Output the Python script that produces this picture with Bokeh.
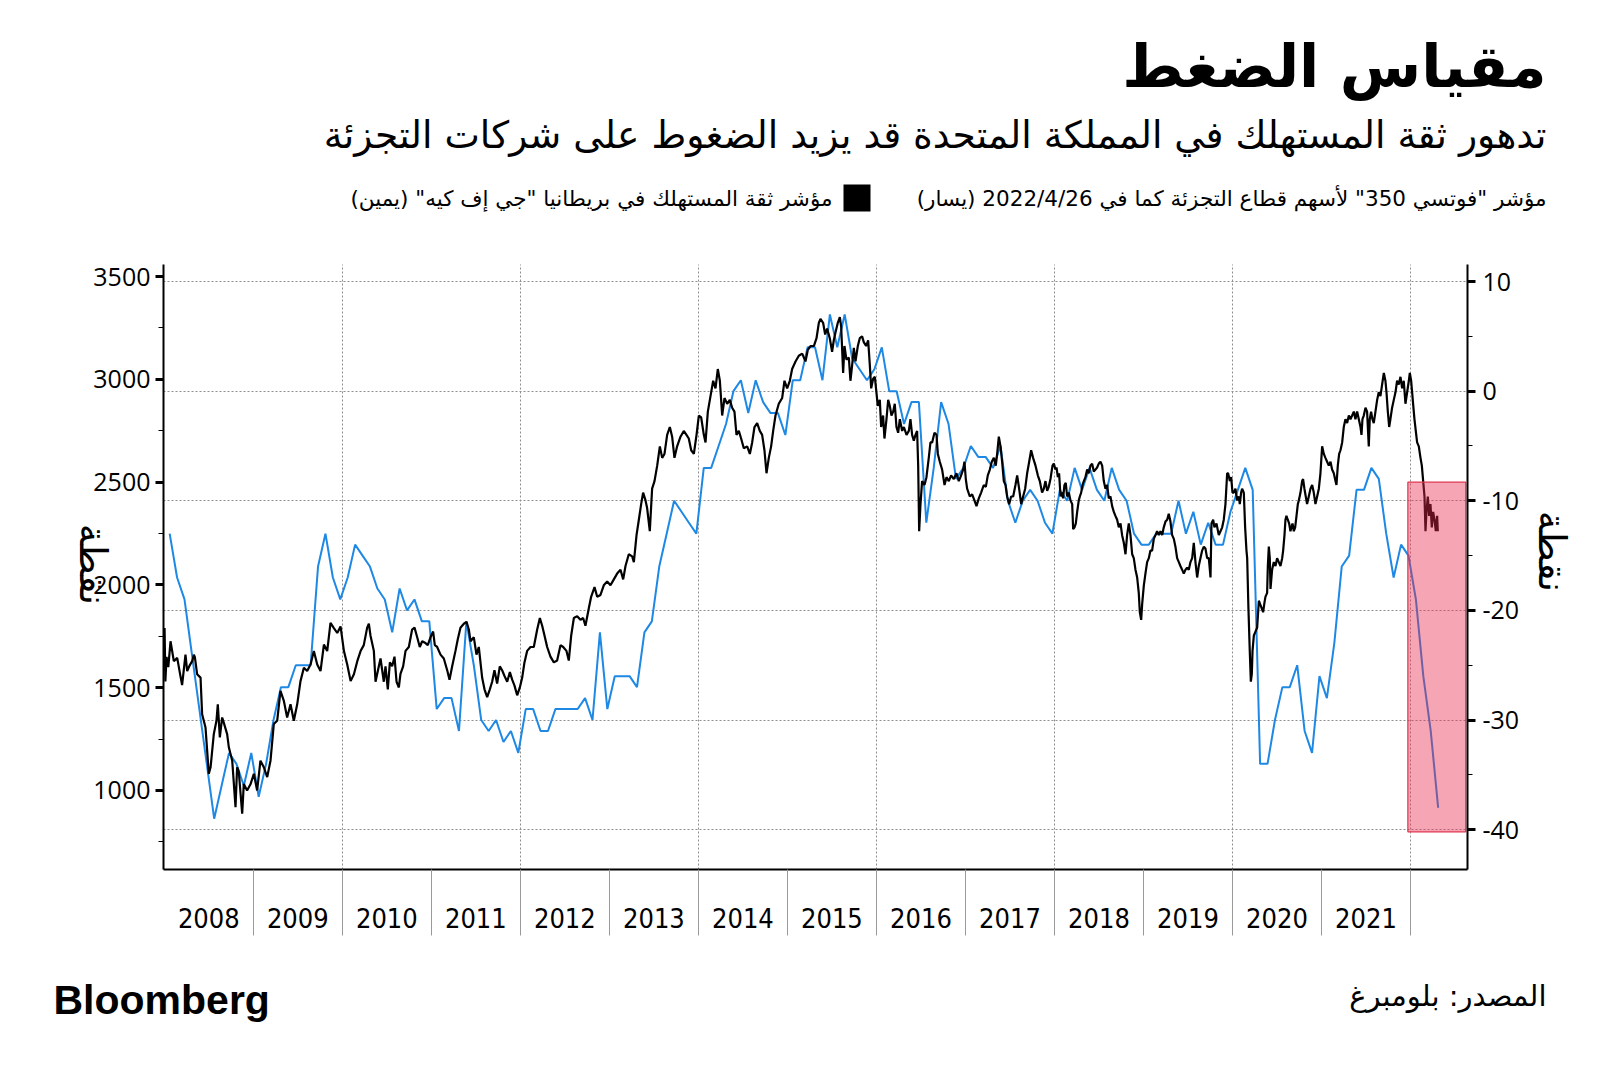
from math import pi
from bokeh.plotting import figure
from bokeh.models import Range1d, LinearAxis, FixedTicker, Label, Grid
from bokeh.embed import file_html
from bokeh.resources import INLINE

# ---------------- data ----------------
years = list(range(2008, 2022))                 # labelled years on the x axis
year_edges = list(range(2009, 2023))            # separators between years
grid_years = list(range(2010, 2023, 2))         # dotted vertical grid
left_ticks = [1000, 1500, 2000, 2500, 3000, 3500]
left_minor = [750, 1250, 1750, 2250, 2750, 3250]
right_ticks = [10, 0, -10, -20, -30, -40]
right_minor = [5, -5, -15, -25, -35]

# GfK UK consumer confidence, monthly from Jan 2008 (right axis)
gfk_first_year = 2008
gfk_release_day = 23
gfk_values = [
    -13, -17, -19, -24, -29, -34, -39, -36, -33, -34, -36, -33,   # 2008
    -37, -34, -30, -27, -27, -25, -25, -25, -16, -13, -17, -19,   # 2009
    -17, -14, -15, -16, -18, -19, -22, -18, -20, -19, -21, -21,   # 2010
    -29, -28, -28, -31, -21, -25, -30, -31, -30, -32, -31, -33,   # 2011
    -29, -29, -31, -31, -29, -29, -29, -29, -28, -30, -22, -29,   # 2012
    -26, -26, -26, -27, -22, -21, -16, -13, -10, -11, -12, -13,   # 2013
    -7, -7, -5, -3, 0, 1, -2, 1, -1, -2, -2, -4,                  # 2014
    1, 1, 4, 4, 1, 7, 4, 7, 3, 2, 1, 2,                           # 2015
    4, 0, 0, -3, -1, -1, -12, -7, -1, -3, -8, -7,                 # 2016
    -5, -6, -6, -7, -5, -10, -12, -10, -9, -10, -12, -13,         # 2017
    -9, -10, -7, -9, -7, -9, -10, -7, -9, -10, -13, -14,          # 2018
    -14, -13, -13, -13, -10, -13, -11, -14, -12, -14, -14, -11,   # 2019
    -9, -7, -9, -34, -34, -30, -27, -27, -25, -31, -33, -26,      # 2020
    -28, -23, -16, -15, -9, -9, -7, -8, -13, -17, -14, -15,       # 2021
    -19, -26, -31, -38,                                           # 2022
]

# FTSE 350 retailers index (left axis): decimal-year dates and values
ftse_dates = [
    2008.003, 2008.012, 2008.025, 2008.045, 2008.070, 2008.107, 2008.145, 2008.180, 2008.200, 2008.238,
    2008.257, 2008.287, 2008.313, 2008.332, 2008.343, 2008.369, 2008.407, 2008.425, 2008.463, 2008.500,
    2008.520, 2008.556, 2008.586, 2008.601, 2008.624, 2008.650, 2008.668, 2008.706, 2008.725, 2008.763,
    2008.800, 2008.818, 2008.837, 2008.875, 2008.893, 2008.930, 2008.968, 2009.006, 2009.043, 2009.080,
    2009.118, 2009.156, 2009.193, 2009.230, 2009.268, 2009.305, 2009.343, 2009.380, 2009.418, 2009.455,
    2009.493, 2009.530, 2009.568, 2009.605, 2009.643, 2009.680, 2009.718, 2009.755, 2009.793, 2009.830,
    2009.867, 2009.905, 2009.943, 2009.980, 2010.018, 2010.055, 2010.093, 2010.130, 2010.168, 2010.205,
    2010.241, 2010.279, 2010.298, 2010.316, 2010.354, 2010.373, 2010.410,
    2010.429, 2010.466, 2010.485, 2010.511, 2010.534, 2010.560, 2010.586, 2010.609, 2010.635, 2010.653,
    2010.683, 2010.710, 2010.747, 2010.784, 2010.811, 2010.841, 2010.870, 2010.897, 2010.934, 2010.960,
    2010.990, 2011.020, 2011.039, 2011.065, 2011.103, 2011.140, 2011.178, 2011.204, 2011.234, 2011.271,
    2011.297, 2011.327, 2011.365, 2011.395, 2011.421, 2011.440, 2011.477, 2011.507, 2011.533, 2011.571,
    2011.597, 2011.627, 2011.657, 2011.683, 2011.709, 2011.739, 2011.769, 2011.795, 2011.822, 2011.852,
    2011.882, 2011.908, 2011.934, 2011.964, 2011.994, 2012.020, 2012.046, 2012.076, 2012.114, 2012.151,
    2012.189, 2012.219, 2012.245, 2012.271, 2012.301, 2012.338, 2012.376, 2012.413, 2012.451, 2012.481,
    2012.518, 2012.544, 2012.571, 2012.601, 2012.638, 2012.675, 2012.705, 2012.731, 2012.769, 2012.795,
    2012.833, 2012.863,
    2012.900, 2012.937, 2012.975, 2013.012, 2013.050, 2013.087, 2013.125, 2013.155, 2013.181, 2013.218,
    2013.256, 2013.275, 2013.305, 2013.331, 2013.357, 2013.379, 2013.406, 2013.424, 2013.454, 2013.480,
    2013.507, 2013.537, 2013.567, 2013.593, 2013.619, 2013.649, 2013.679, 2013.705, 2013.731, 2013.761,
    2013.799, 2013.836, 2013.866, 2013.892, 2013.919, 2013.949, 2013.979, 2014.005, 2014.031, 2014.061,
    2014.080, 2014.106, 2014.136, 2014.166, 2014.192, 2014.218, 2014.241, 2014.267, 2014.293, 2014.323,
    2014.353, 2014.379, 2014.405, 2014.428, 2014.454, 2014.480, 2014.510, 2014.548, 2014.578, 2014.604,
    2014.630, 2014.660, 2014.690, 2014.716, 2014.742, 2014.765, 2014.791, 2014.817, 2014.840, 2014.866,
    2014.903, 2014.941, 2014.967, 2014.997, 2015.027, 2015.053, 2015.091, 2015.128, 2015.166, 2015.203,
    2015.229, 2015.259, 2015.297, 2015.327, 2015.353,
    2015.371, 2015.401, 2015.424, 2015.446, 2015.476, 2015.502, 2015.521, 2015.540, 2015.566, 2015.589,
    2015.604, 2015.626, 2015.641, 2015.663, 2015.690, 2015.708, 2015.727, 2015.746, 2015.765, 2015.791,
    2015.813, 2015.839, 2015.858, 2015.884, 2015.907, 2015.926, 2015.941, 2015.963, 2015.982, 2016.000,
    2016.015, 2016.038, 2016.053, 2016.075, 2016.090, 2016.113, 2016.132, 2016.150, 2016.169, 2016.188,
    2016.206, 2016.225, 2016.244, 2016.263, 2016.289, 2016.308, 2016.338, 2016.364, 2016.382, 2016.401,
    2016.420, 2016.439, 2016.457, 2016.469, 2016.480, 2016.495, 2016.513, 2016.540, 2016.562, 2016.588,
    2016.607, 2016.626, 2016.652, 2016.675, 2016.690, 2016.712, 2016.738, 2016.765, 2016.787, 2016.813,
    2016.839, 2016.869, 2016.899, 2016.925, 2016.944, 2016.974, 2016.989, 2017.004, 2017.019, 2017.049,
    2017.075, 2017.101, 2017.124, 2017.150, 2017.176, 2017.206, 2017.229, 2017.251, 2017.274, 2017.296,
    2017.319, 2017.341, 2017.356, 2017.375, 2017.394, 2017.412, 2017.431, 2017.450, 2017.468, 2017.491,
    2017.513, 2017.536, 2017.562, 2017.581, 2017.603, 2017.626, 2017.648, 2017.671, 2017.693, 2017.716,
    2017.738, 2017.760, 2017.787, 2017.813, 2017.835,
    2017.861, 2017.880, 2017.899, 2017.918, 2017.936, 2017.955, 2017.978, 2017.993, 2018.011, 2018.023,
    2018.038, 2018.052, 2018.068, 2018.082, 2018.097, 2018.112, 2018.127, 2018.142, 2018.161, 2018.180,
    2018.199, 2018.210, 2018.225, 2018.240, 2018.255, 2018.273, 2018.285, 2018.300, 2018.315, 2018.330,
    2018.348, 2018.367, 2018.386, 2018.404, 2018.423, 2018.442, 2018.461, 2018.479, 2018.498, 2018.517,
    2018.536, 2018.554, 2018.573, 2018.592, 2018.610, 2018.629, 2018.648, 2018.667, 2018.685, 2018.704,
    2018.723, 2018.742, 2018.760, 2018.779, 2018.798, 2018.816, 2018.835, 2018.854, 2018.873, 2018.891,
    2018.910, 2018.929, 2018.947, 2018.959, 2018.974, 2018.985, 2019.004, 2019.022, 2019.041, 2019.060,
    2019.078, 2019.097, 2019.116, 2019.135, 2019.153, 2019.172, 2019.191, 2019.210, 2019.228, 2019.247,
    2019.266, 2019.284, 2019.303, 2019.322, 2019.341, 2019.359, 2019.378, 2019.397, 2019.415, 2019.434,
    2019.453, 2019.472, 2019.490, 2019.509, 2019.528, 2019.547, 2019.565, 2019.584, 2019.603, 2019.621,
    2019.640, 2019.659, 2019.678, 2019.696, 2019.715, 2019.734, 2019.753, 2019.764, 2019.783, 2019.797,
    2019.820, 2019.846, 2019.865, 2019.884, 2019.902, 2019.921, 2019.940, 2019.951, 2019.970, 2019.985,
    2020.000, 2020.015, 2020.033, 2020.052, 2020.071, 2020.082, 2020.097, 2020.108, 2020.127, 2020.142,
    2020.157, 2020.165, 2020.179, 2020.194, 2020.206, 2020.217, 2020.225, 2020.240, 2020.258, 2020.277,
    2020.296,
    2020.344, 2020.359, 2020.370, 2020.389, 2020.397, 2020.408, 2020.419, 2020.427, 2020.445, 2020.464,
    2020.483, 2020.501, 2020.520, 2020.539, 2020.558, 2020.569, 2020.584, 2020.595, 2020.606, 2020.621,
    2020.636, 2020.651, 2020.662, 2020.674, 2020.689, 2020.704, 2020.719, 2020.734, 2020.745, 2020.764,
    2020.782, 2020.793, 2020.808, 2020.823, 2020.838, 2020.857, 2020.876, 2020.895, 2020.913, 2020.932,
    2020.951, 2020.970, 2020.988, 2021.007, 2021.026, 2021.044, 2021.063, 2021.082, 2021.101, 2021.119,
    2021.138, 2021.157, 2021.168, 2021.183, 2021.198, 2021.213, 2021.232, 2021.250, 2021.269, 2021.288,
    2021.307, 2021.325, 2021.344, 2021.363, 2021.381, 2021.400, 2021.419, 2021.438, 2021.449, 2021.460,
    2021.475, 2021.494, 2021.512, 2021.531, 2021.542, 2021.557, 2021.572, 2021.587, 2021.606, 2021.625,
    2021.643, 2021.662, 2021.681, 2021.700, 2021.718, 2021.730, 2021.745, 2021.760, 2021.774, 2021.793,
    2021.812, 2021.831, 2021.849, 2021.868, 2021.887, 2021.906, 2021.924, 2021.943, 2021.962, 2021.981,
    2021.992, 2022.007, 2022.018, 2022.029, 2022.044, 2022.059, 2022.074, 2022.093, 2022.112, 2022.127,
    2022.142, 2022.157, 2022.168, 2022.179, 2022.194, 2022.209, 2022.224, 2022.239, 2022.254, 2022.269,
    2022.284, 2022.299, 2022.306,
]
ftse_values = [
    1790, 1530, 1650, 1600, 1726, 1629, 1645, 1560, 1513, 1661,
    1581, 1610, 1629, 1660, 1650, 1565, 1549, 1371, 1306, 1081,
    1113, 1274, 1339, 1419, 1258, 1355, 1330, 1274, 1210, 1145,
    919, 1113, 1090, 887, 1032, 1000, 1030, 1081, 1000, 1145,
    1113, 1065, 1145, 1323, 1339, 1484, 1436, 1355, 1419, 1339,
    1419, 1532, 1597, 1581, 1613, 1678, 1613, 1581, 1710, 1678,
    1815, 1790, 1766, 1798, 1678, 1613, 1532, 1565, 1629, 1678,
    1707, 1792, 1811, 1754, 1679, 1529, 1604,
    1642, 1529, 1604, 1492, 1623, 1604, 1651, 1529, 1501, 1567,
    1604, 1679, 1698, 1783, 1792, 1745, 1698, 1726, 1717, 1707,
    1745, 1773, 1707, 1698, 1661, 1642, 1585, 1539, 1604, 1679,
    1736, 1792, 1811, 1820, 1783, 1726, 1745, 1661, 1698, 1548,
    1492, 1454, 1492, 1529, 1585, 1520, 1604, 1585, 1557, 1529,
    1576, 1539, 1510, 1463, 1501, 1548, 1623, 1679, 1698, 1698,
    1783, 1839, 1801, 1754, 1698, 1651, 1623, 1632, 1707, 1698,
    1679, 1632, 1754, 1839, 1848, 1830, 1839, 1801, 1886, 1942,
    1989, 1942,
    1951, 1998, 2017, 1998, 2027, 2055, 2074, 2027, 2092, 2149,
    2139, 2111, 2242, 2317, 2393, 2449, 2411, 2374, 2261, 2468,
    2505, 2580, 2674, 2618, 2637, 2730, 2768, 2721, 2618, 2674,
    2721, 2749, 2730, 2712, 2655, 2637, 2730, 2824, 2815, 2730,
    2693, 2843, 2918, 2993, 2956, 3050, 2993, 2824, 2909, 2881,
    2900, 2862, 2843, 2730, 2749, 2712, 2665, 2674, 2637, 2693,
    2768, 2787, 2749, 2730, 2655, 2543, 2618, 2674, 2749, 2824,
    2881, 2909, 2993, 2956, 2993, 3050, 3087, 3115, 3125, 3087,
    3143, 3162, 3162, 3200, 3275,
    3294, 3275, 3218, 3247, 3200, 3134, 3190, 3228, 3275, 3303,
    3256, 3031, 3162, 3096, 3106, 2993, 3068, 3153, 3087, 3162,
    3200, 3209, 3181, 3162, 3190, 3068, 2956, 3003, 3012, 2937,
    2871, 2900, 2768, 2824, 2712, 2806, 2900, 2871, 2824, 2843,
    2881, 2768, 2740, 2806, 2749, 2768, 2730, 2749, 2806, 2730,
    2702, 2730, 2749, 2580, 2261, 2393, 2505, 2486, 2524, 2618,
    2693, 2693, 2740, 2730, 2637, 2599, 2561, 2486, 2524, 2505,
    2533, 2515, 2543, 2505, 2524, 2561, 2599, 2515, 2468, 2430,
    2440, 2411, 2383, 2421, 2449, 2486, 2477, 2533, 2561, 2599,
    2618, 2580, 2637, 2721, 2674, 2599, 2505, 2486, 2430, 2393,
    2430, 2430, 2486, 2533, 2468, 2393, 2430, 2468, 2543, 2599,
    2655, 2618, 2580, 2533, 2505,
    2449, 2468, 2505, 2458, 2477, 2515, 2580, 2590, 2561, 2571,
    2524, 2543, 2430, 2449, 2421, 2486, 2496, 2430, 2449, 2411,
    2393, 2271, 2280, 2299, 2355, 2411, 2430, 2449, 2486, 2505,
    2524, 2561, 2543, 2580, 2590, 2552, 2561, 2571, 2590, 2599,
    2580, 2505, 2468, 2486, 2421, 2430, 2383, 2355, 2336, 2317,
    2280, 2299, 2242, 2205, 2149, 2242, 2299, 2242, 2149, 2130,
    2074, 2036, 1961, 1867, 1830, 1905, 1998, 2055, 2111, 2130,
    2167, 2167, 2224, 2242, 2261, 2242, 2261, 2242, 2280, 2308,
    2317, 2346, 2308, 2242, 2224, 2186, 2130, 2111, 2092, 2074,
    2055, 2074, 2083, 2074, 2111, 2130, 2205, 2111, 2036, 2092,
    2130, 2167, 2186, 2177, 2130, 2130, 2036, 2299, 2317, 2280,
    2299, 2242, 2261, 2280, 2317, 2393, 2543, 2543, 2505, 2524,
    2449, 2449, 2468, 2411, 2430, 2393, 2449, 2468, 2449, 2280,
    2167, 2130, 1886, 1679, 1529, 1567, 1679, 1754, 1773, 1792,
    1923,
    1867, 1914, 1942, 1961, 2092, 2186, 2130, 1980, 2074, 2111,
    2092, 2130, 2111, 2092, 2130, 2167, 2242, 2317, 2336, 2317,
    2299, 2261, 2280, 2299, 2261, 2280, 2336, 2393, 2411, 2449,
    2505, 2515, 2468, 2430, 2393, 2430, 2468, 2486, 2449, 2393,
    2430, 2468, 2543, 2674, 2637, 2618, 2599, 2580, 2599, 2561,
    2543, 2505, 2486, 2580, 2637, 2655, 2693, 2768, 2806, 2787,
    2824, 2806, 2824, 2843, 2806, 2843, 2806, 2768, 2730, 2806,
    2824, 2862, 2843, 2674, 2806, 2843, 2806, 2787, 2843, 2900,
    2937, 2918, 2975, 3031, 2993, 2937, 2843, 2768, 2806, 2862,
    2900, 2937, 2993, 2975, 3012, 2956, 2993, 2881, 2937, 2993,
    3031, 2993, 2937, 2881, 2806, 2749, 2693, 2674, 2618, 2580,
    2505, 2430, 2261, 2355, 2430, 2336, 2393, 2280, 2355, 2317,
    2261, 2336, 2261,
]

# highlighted period (2022) on the GfK scale
highlight_x = (2021.97, 2022.62)
highlight_y = (-40.2, -8.3)

title_text = "مقياس الضغط"
subtitle_text = "تدهور ثقة المستهلك في المملكة المتحدة قد يزيد الضغوط على شركات التجزئة"
legend_ftse = "مؤشر \"فوتسي 350\" لأسهم قطاع التجزئة كما في 2022/4/26 (يسار)\u200f"
legend_gfk = "مؤشر ثقة المستهلك في بريطانيا \"جي إف كيه\" (يمين)\u200f"
axis_unit = "نقطة"
source_text = "المصدر: بلومبرغ"
brand_text = "Bloomberg"

# ---------------- geometry ----------------
W, H = 1584, 1060                    # canvas (page pixels)
FL, FR, FT, FB = 163, 1467, 263.5, 868.5   # chart area inside the canvas
X0, X1 = 2007.991, 2022.64           # visible time span
L0, L1 = 618, 3561                   # left-axis span
G0, G1 = -43.59, 11.6                # right-axis span


def extend(a0, a1, p0, p1, q0, q1):
    """Linear map p0->a0, p1->a1; return the values at pixels q0 and q1."""
    k = (a1 - a0) / (p1 - p0)
    return a0 + (q0 - p0) * k, a0 + (q1 - p0) * k


xs = extend(X0, X1, FL, FR, 0, W)
ls = extend(L0, L1, FB, FT, H, 0)
gs = extend(G0, G1, FB, FT, H, 0)

p = figure(width=W, height=H, output_backend="svg", toolbar_location=None,
           x_range=Range1d(*xs), y_range=Range1d(*ls),
           x_axis_type=None, y_axis_type=None, min_border=0)
p.extra_y_ranges = {"gfk": Range1d(*gs), "px": Range1d(H, 0)}
p.extra_x_ranges = {"px": Range1d(0, W)}
p.outline_line_color = None
p.background_fill_color = "white"
p.border_fill_color = "white"

# grid
GRID = "#8f8f8f"
grid_kw = dict(grid_line_color=GRID, grid_line_dash="2 2", grid_line_width=1)
if "cross_bounds" in Grid.properties():
    p.add_layout(Grid(dimension=1, y_range_name="gfk", ticker=FixedTicker(ticks=right_ticks),
                      bounds=(G0, G1), cross_bounds=(X0, X1), **grid_kw))
    p.add_layout(Grid(dimension=0, ticker=FixedTicker(ticks=grid_years),
                      bounds=(X0, X1), cross_bounds=(L0, L1), **grid_kw))
else:
    p.segment(x0=X0, x1=X1, y0=right_ticks, y1=right_ticks, y_range_name="gfk",
              line_color=GRID, line_dash="2 2", line_width=1)
    p.segment(x0=grid_years, x1=grid_years, y0=L0, y1=L1,
              line_color=GRID, line_dash="2 2", line_width=1)

# axes (pinned to the chart area edges)
yl = LinearAxis(ticker=FixedTicker(ticks=left_ticks, minor_ticks=left_minor),
                fixed_location=X0, bounds=(L0, L1))
yr = LinearAxis(y_range_name="gfk", ticker=FixedTicker(ticks=right_ticks, minor_ticks=right_minor),
                major_label_overrides={t: str(t) for t in right_ticks},
                fixed_location=X1, bounds=(G0, G1))
for ax, so in ((yl, 5), (yr, 7)):
    ax.axis_line_color = "black"
    ax.axis_line_width = 2
    ax.major_tick_line_color = "black"
    ax.major_tick_line_width = 3
    ax.major_tick_out = 8
    ax.major_tick_in = 0
    ax.minor_tick_line_color = "black"
    ax.minor_tick_line_width = 1
    ax.minor_tick_out = 5
    ax.minor_tick_in = 0
    ax.major_label_text_font = "Open Sans"
    ax.major_label_text_font_size = "25px"
    ax.major_label_text_color = "black"
    ax.major_label_standoff = so
p.add_layout(yl, "left")
p.add_layout(yr, "right")

xb = LinearAxis(ticker=FixedTicker(ticks=[y + 0.5 for y in years], minor_ticks=year_edges),
                major_label_overrides={y + 0.5: str(y) for y in years},
                fixed_location=L0, bounds=(X0, X1))
xb.axis_line_color = "black"
xb.axis_line_width = 2
xb.major_tick_line_color = None
xb.major_tick_out = 0
xb.major_tick_in = 0
xb.minor_tick_line_color = "#9a9a9a"
xb.minor_tick_line_width = 1
xb.minor_tick_out = 66
xb.minor_tick_in = 0
xb.major_label_text_font = "'DejaVu Sans Condensed', 'DejaVu Sans'"
xb.major_label_text_font_size = "27px"
xb.major_label_text_color = "black"
xb.major_label_standoff = -27
p.add_layout(xb, "below")

# series
gfk_x = [gfk_first_year + i / 12 + (gfk_release_day - 1) / 365 for i in range(len(gfk_values))]
p.line(gfk_x, gfk_values, y_range_name="gfk", line_color="#1e88e5", line_width=2)
p.line(ftse_dates, ftse_values, line_color="black", line_width=2.2)

# highlight box
p.quad(left=[highlight_x[0]], right=[highlight_x[1]], bottom=[highlight_y[0]], top=[highlight_y[1]],
       y_range_name="gfk", fill_color="#e8284a", fill_alpha=0.42,
       line_color="#e2344f", line_width=1.2)

# ---------------- texts (page-pixel coordinates) ----------------
AR = "DejaVu Sans"


def add_label(text, x, y, size, align="right", baseline="alphabetic", bold=False, font=AR, angle=0.0):
    p.add_layout(Label(x=x, y=y, x_range_name="px", y_range_name="px", text=text,
                       text_align=align, text_baseline=baseline, text_font=font,
                       text_font_size=size, text_font_style="bold" if bold else "normal",
                       text_color="black", angle=angle))


add_label(title_text, 1546, 66, "59px", bold=True)
add_label(subtitle_text, 1546, 134, "37.6px")
add_label(legend_ftse, 1546, 198, "21.5px")
add_label(legend_gfk, 832, 198, "21.5px")
add_label(axis_unit, 92, 564, "38px", align="center", baseline="middle", angle=-pi / 2)
add_label(axis_unit, 1551, 551, "38px", align="center", baseline="middle", angle=-pi / 2)
add_label(source_text, 1546, 995, "29px")
add_label(brand_text, 53, 999, "41px", align="left", bold=True, font="Liberation Sans")

# legend swatch
p.quad(left=[843], right=[870], top=[184], bottom=[211], x_range_name="px", y_range_name="px",
       fill_color="black", line_color=None)

open("out.html", "w").write(file_html(p, INLINE))
